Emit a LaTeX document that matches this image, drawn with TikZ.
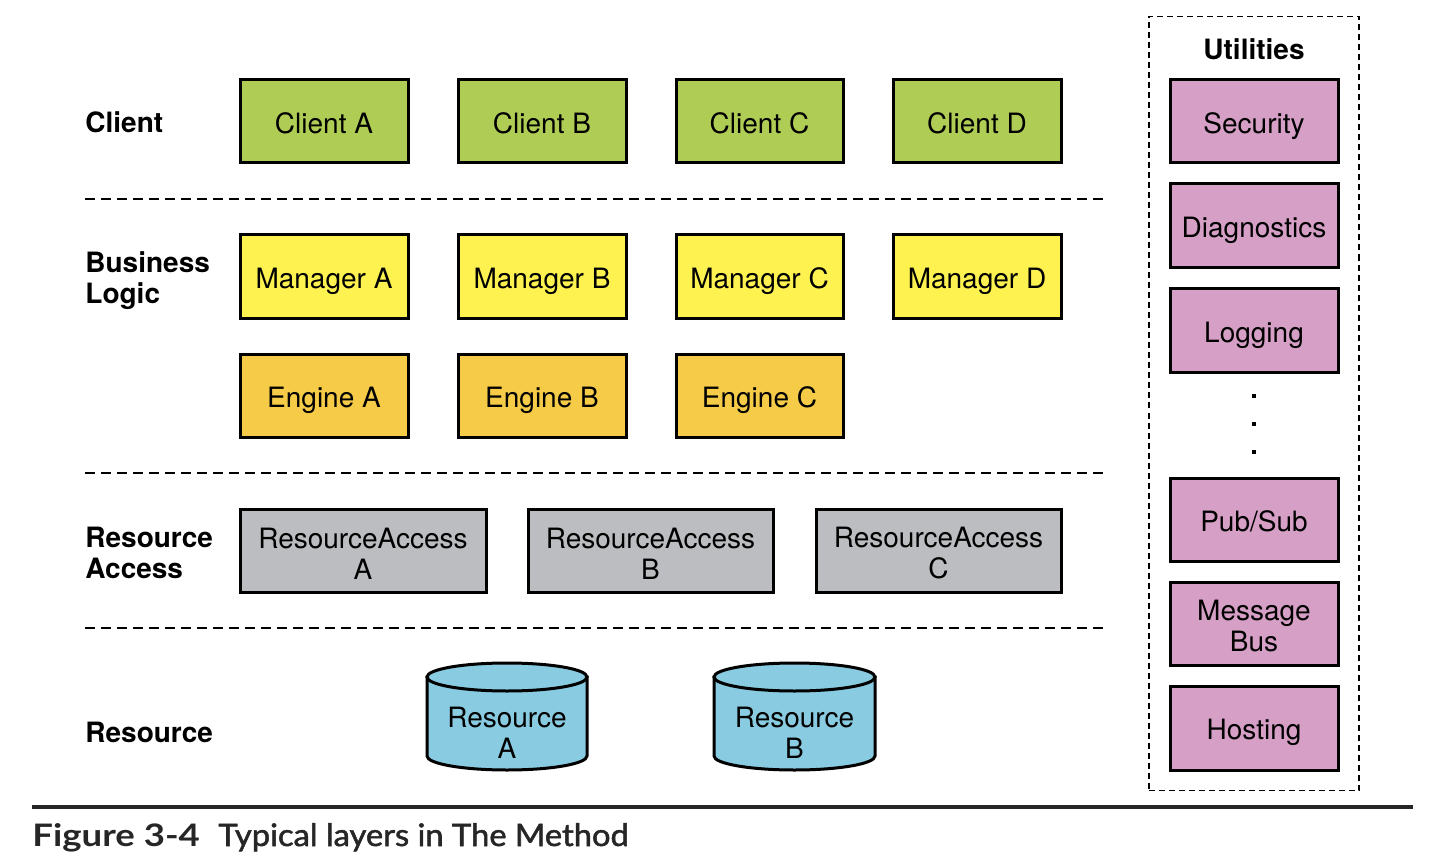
\documentclass[tikz,border=0pt]{standalone}
\usepackage{fontspec}
\setmainfont{TeX Gyre Heros}
\newfontfamily\capfont{Lato}
\newfontfamily\capfontfb[FakeBold=1.6]{Lato}
\definecolor{cligreen}{HTML}{AFCD55}
\definecolor{mgryellow}{HTML}{FEF250}
\definecolor{engorange}{HTML}{F6CB47}
\definecolor{ragray}{HTML}{BCBDC0}
\definecolor{resblue}{HTML}{89CBE0}
\definecolor{utilpink}{HTML}{D59FC6}
\definecolor{capgray}{HTML}{262626}
\newcommand{\topstrut}{\rule{0pt}{13pt}}
\tikzset{
  box/.style={draw=black, line width=1.5pt, rectangle, inner sep=0pt, align=center,
    font=\fontsize{14}{15.5}\selectfont},
  oneline/.style={text height=15pt, text depth=3.2pt},
  layerlabel/.style={anchor=west, align=left, inner sep=0pt,
    font=\fontsize{14}{15.5}\selectfont\bfseries},
  layerline/.style={line width=1pt, dash pattern=on 5pt off 3pt},
  cylbody/.style={fill=resblue, draw=black, line width=1.5pt},
  std/.style={box, oneline, minimum width=84pt, minimum height=41.5pt},
}
\begin{document}
\begin{tikzpicture}[x=0.5pt, y=-0.5pt]
\useasboundingbox (0,0) rectangle (1440,866);
% layer labels
\node[layerlabel] (lclient) at (85,122) {Client};
\node[layerlabel] (lbl) at (85,280.5) {Business\\Logic};
\node[layerlabel] (lra) at (85,553) {Resource\\Access};
\node[layerlabel] (lres) at (85,732) {Resource};
% dashed separators
\coordinate (s1a) at (85,199); \coordinate (s1b) at (1105,199);
\coordinate (s2a) at (85,473); \coordinate (s2b) at (1105,473);
\coordinate (s3a) at (85,628); \coordinate (s3b) at (1105,628);
\draw[layerline] (s1a) -- (s1b);
\draw[layerline] (s2a) -- (s2b);
\draw[layerline] (s3a) -- (s3b);
% clients
\node[std, fill=cligreen] (ca) at (324,121.5) {Client A};
\node[std, fill=cligreen] (cb) at (542,121.5) {Client B};
\node[std, fill=cligreen, minimum width=83.5pt] (cc) at (759.5,121.5) {Client C};
\node[std, fill=cligreen] (cd) at (977,121.5) {Client D};
% managers
\node[std, fill=mgryellow] (ma) at (324,276.5) {Manager A};
\node[std, fill=mgryellow] (mb) at (542,276.5) {Manager B};
\node[std, fill=mgryellow, minimum width=83.5pt] (mc) at (759.5,276.5) {Manager C};
\node[std, fill=mgryellow] (md) at (977,276.5) {Manager D};
% engines
\node[std, fill=engorange] (ea) at (324,395.5) {Engine A};
\node[std, fill=engorange] (eb) at (542,395.5) {Engine B};
\node[std, fill=engorange, minimum width=83.5pt] (ec) at (759.5,395.5) {Engine C};
% resource access
\node[box, fill=ragray, minimum width=123pt, minimum height=41.5pt] (raa) at (363,550.5) {\topstrut ResourceAccess\\A};
\node[box, fill=ragray, minimum width=122.5pt, minimum height=41.5pt] (rab) at (650.5,550.5) {\topstrut ResourceAccess\\B};
\node[box, fill=ragray, minimum width=122.5pt, minimum height=41.5pt] (rac) at (938.5,550.5) {\topstrut ResourceAccess\\C};
% resources (cylinders)
\path[cylbody] (427,677) -- (427,756) arc[start angle=180, end angle=0, x radius=80, y radius=14] -- (587,677) -- cycle;
\path[cylbody] (507,677) ellipse [x radius=80, y radius=14];
\node[align=center, inner sep=0pt, font=\fontsize{14}{15.5}\selectfont] (resa) at (507,732.5) {Resource\\A};
\path[cylbody] (714,677) -- (714,756) arc[start angle=180, end angle=0, x radius=80.5, y radius=14] -- (875,677) -- cycle;
\path[cylbody] (794.5,677) ellipse [x radius=80.5, y radius=14];
\node[align=center, inner sep=0pt, font=\fontsize{14}{15.5}\selectfont] (resb) at (794.5,732.5) {Resource\\B};
% utilities
\node[draw=black, line width=0.75pt, dash pattern=on 3pt off 2pt, minimum width=105pt, minimum height=387pt, inner sep=0pt] (util) at (1254,403.5) {};
\node[inner sep=0pt, font=\fontsize{14}{15.5}\selectfont\bfseries] (utitle) at (1254,49) {Utilities};
\node[std, fill=utilpink] (usec) at (1254,121.5) {Security};
\node[std, fill=utilpink, minimum height=42pt] (udiag) at (1254,226) {Diagnostics};
\node[std, fill=utilpink] (ulog) at (1254,330.5) {Logging};
\node[fill=black, minimum size=2.2pt, inner sep=0pt] (d1) at (1254,396) {};
\node[fill=black, minimum size=2.2pt, inner sep=0pt] (d2) at (1254,424) {};
\node[fill=black, minimum size=2.2pt, inner sep=0pt] (d3) at (1254,452) {};
\node[std, fill=utilpink] (upub) at (1254,519.5) {Pub/Sub};
\node[box, fill=utilpink, minimum width=84pt, minimum height=41.5pt] (umsg) at (1254,623.5) {\topstrut Message\\Bus};
\node[std, fill=utilpink, minimum height=42pt] (uhost) at (1254,728) {Hosting};
% caption
\coordinate (ra) at (32,807); \coordinate (rb) at (1413,807);
\draw[capgray, line width=1.7pt] (ra) -- (rb);
\node[anchor=base west, inner sep=0pt, text=capgray, font=\capfont\bfseries\fontsize{15.5}{18}\selectfont] (cap1) at (32,846)
  {\scalebox{1.18}[1]{Figure 3-4}};
\node[anchor=base west, inner sep=0pt, text=capgray, font=\capfontfb\fontsize{15.5}{18}\selectfont] (cap2) at (218,846)
  {\scalebox{1.055}[1]{Typical layers in The Method}};
\end{tikzpicture}
\end{document}
